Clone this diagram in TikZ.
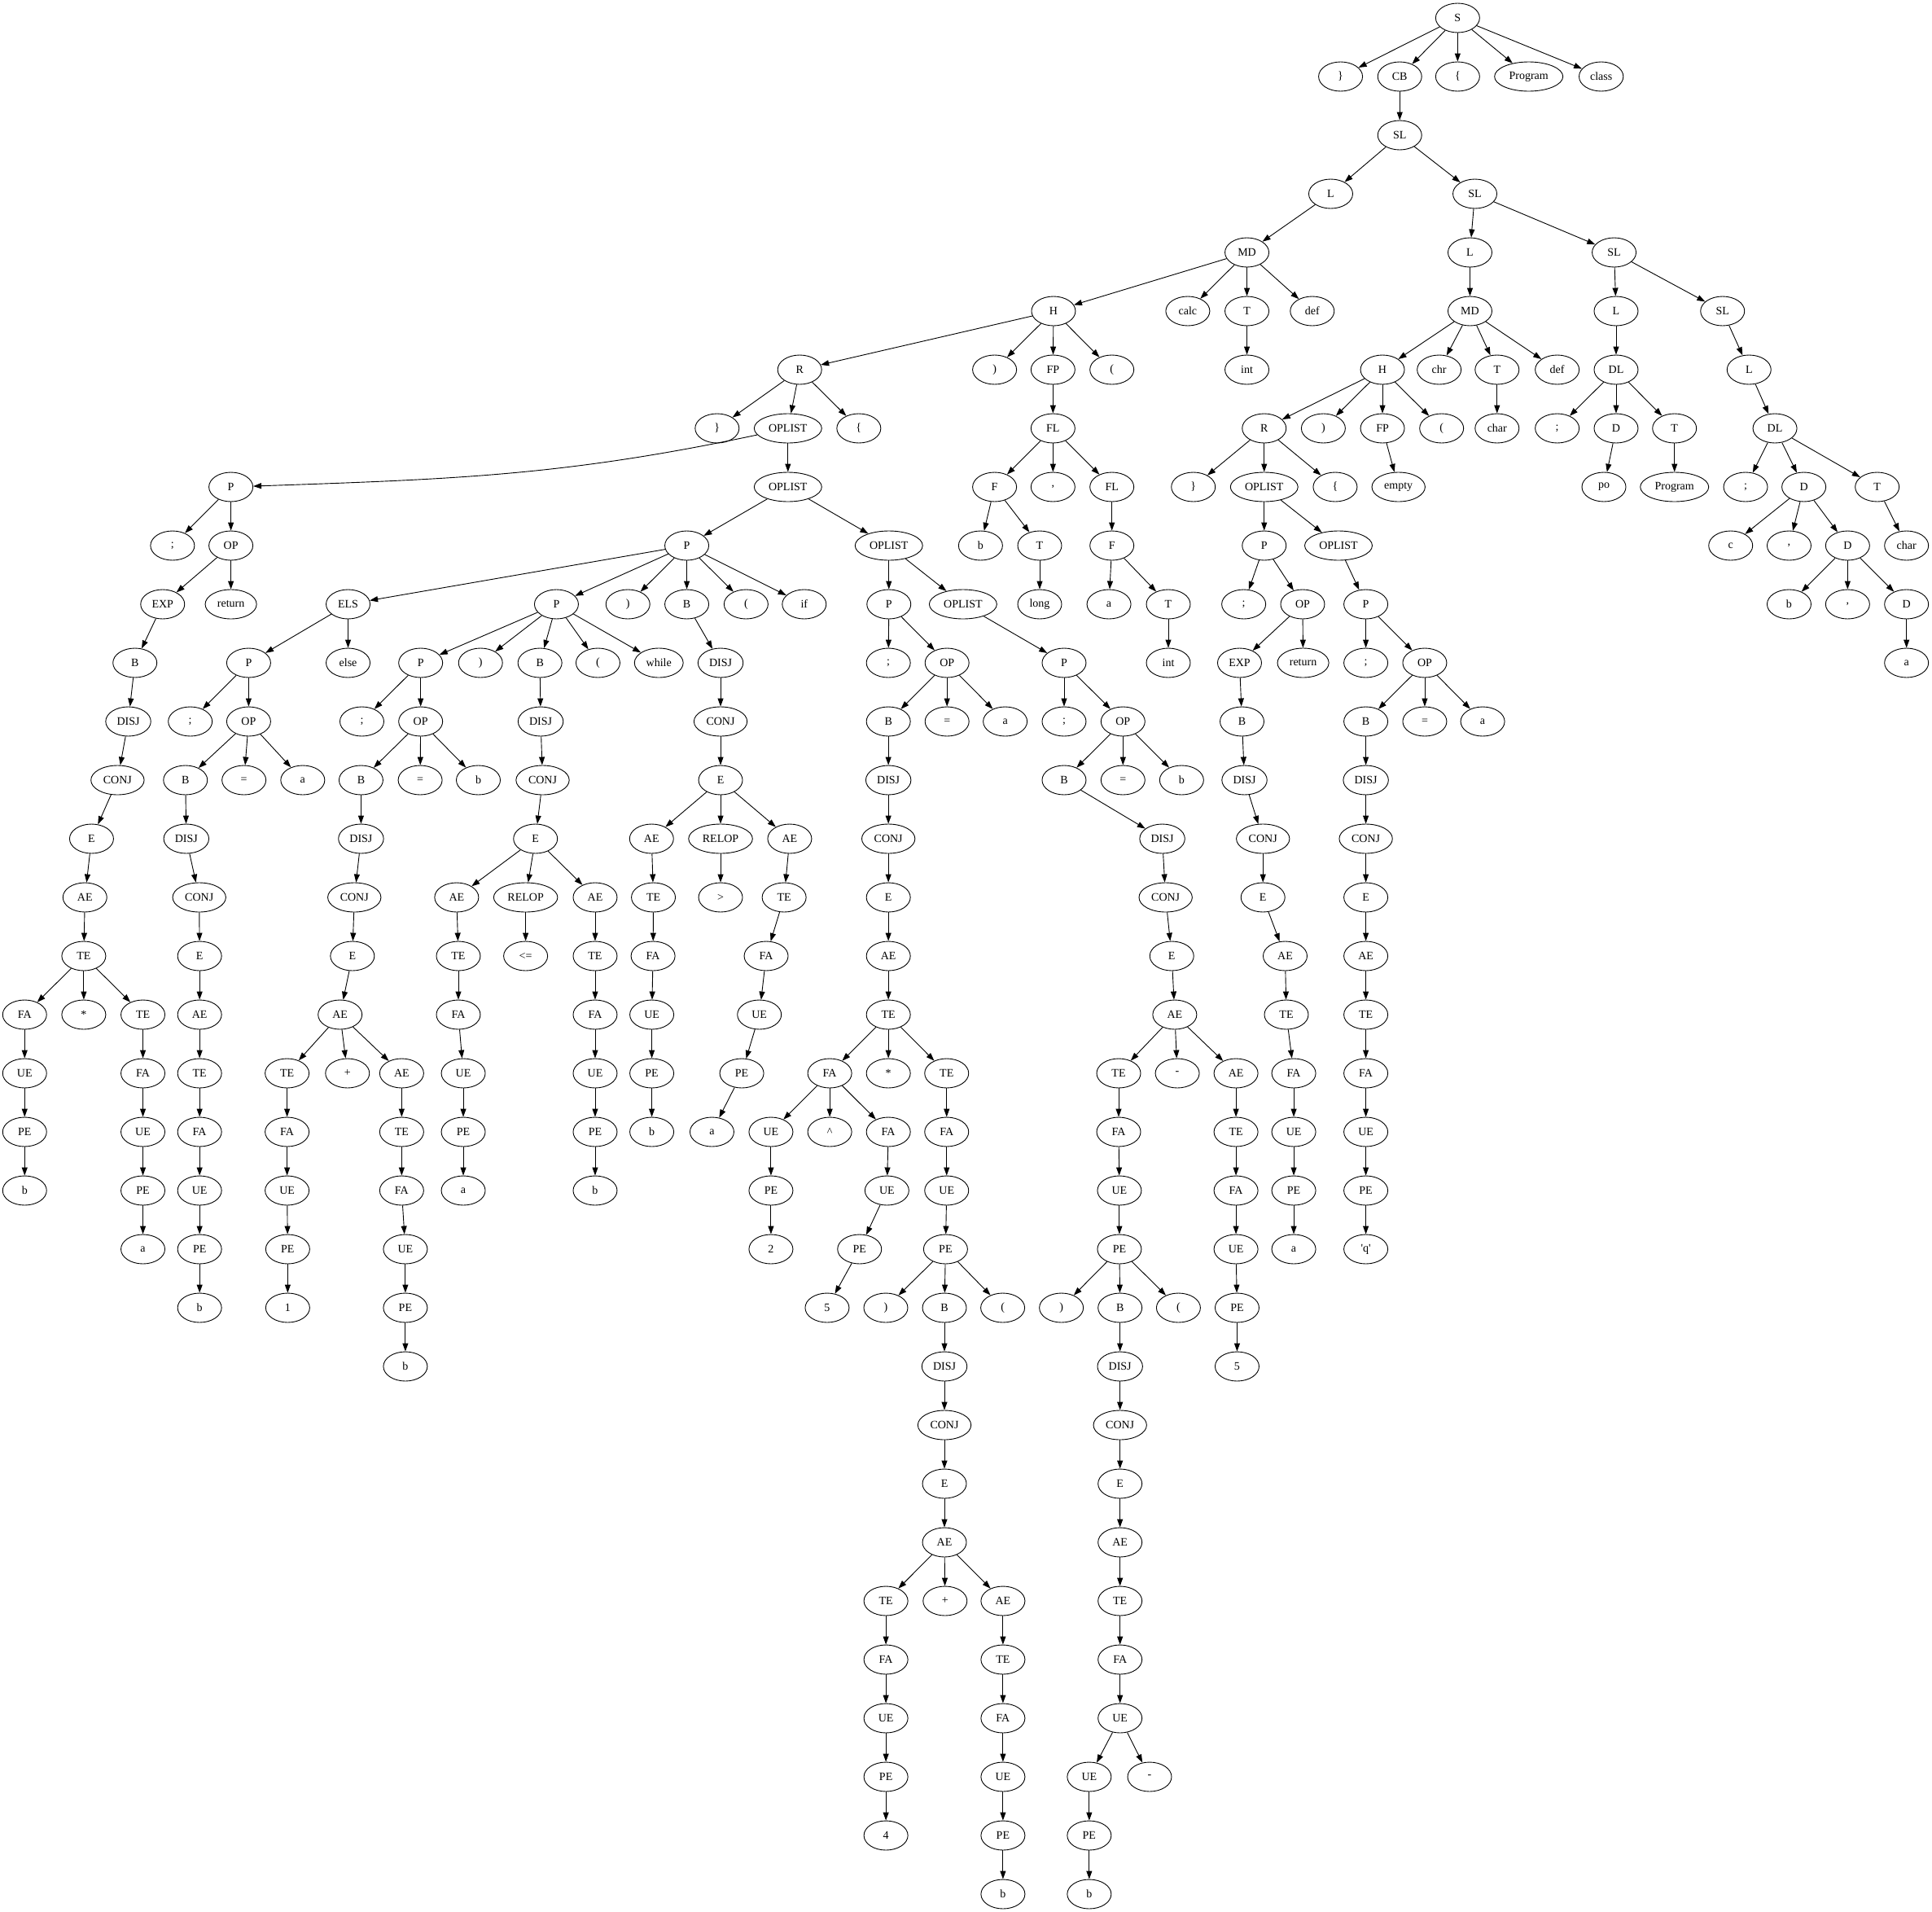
\documentclass[tikz,border=0pt]{standalone}
\usepackage{fontspec}
\setmainfont{Liberation Serif}
\usetikzlibrary{shapes.geometric,arrows.meta}
\begin{document}
\begin{tikzpicture}[x=1.5134pt,y=-72pt,
  nd/.style={draw, ellipse, line width=0.9pt, minimum width=54pt, minimum height=36pt, inner xsep=5.6pt, inner ysep=2pt, font=\fontsize{14pt}{16pt}\selectfont},
  arr/.style={line width=0.9pt, -{Triangle[length=10pt,width=7pt]}}]
\useasboundingbox (0,-0.30556) rectangle (1568,32.30556);
% level 0
\node[nd] (n0a) at (1183,0) {S};
% level 1
\node[nd] (n1a) at (1088,1) {\}};
\node[nd] (n1b) at (1136,1) {CB};
\node[nd] (n1c) at (1183,1) {\{};
\node[nd] (n1d) at (1240.7,1) {Program};
\node[nd] (n1e) at (1299.5,1) {class};
% level 2
\node[nd] (n2a) at (1136,2) {SL};
% level 3
\node[nd] (n3a) at (1080,3) {L};
\node[nd] (n3b) at (1197,3) {SL};
% level 4
\node[nd] (n4a) at (1012,4) {MD};
\node[nd] (n4b) at (1193,4) {L};
\node[nd] (n4c) at (1310,4) {SL};
% level 5
\node[nd] (n5a) at (855,5) {H};
\node[nd] (n5b) at (964,5) {calc};
\node[nd] (n5c) at (1012,5) {T};
\node[nd] (n5d) at (1065,5) {def};
\node[nd] (n5e) at (1193,5) {MD};
\node[nd] (n5f) at (1311.6,5) {L};
\node[nd] (n5g) at (1398,5) {SL};
% level 6
\node[nd] (n6a) at (649,6) {R};
\node[nd] (n6b) at (807.2,6) {)};
\node[nd] (n6c) at (854.6,6) {FP};
\node[nd] (n6d) at (902.4,6) {(};
\node[nd] (n6e) at (1012,6) {int};
\node[nd] (n6f) at (1122,6) {H};
\node[nd] (n6g) at (1168,6) {chr};
\node[nd] (n6h) at (1215,6) {T};
\node[nd] (n6i) at (1263.8,6) {def};
\node[nd] (n6j) at (1311.6,6) {DL};
\node[nd] (n6k) at (1419.5,6) {L};
% level 7
\node[nd] (n7a) at (582,7) {\}};
\node[nd] (n7b) at (639.5,7) {OPLIST};
\node[nd] (n7c) at (697,7) {\{};
\node[nd] (n7d) at (854.6,7) {FL};
\node[nd] (n7e) at (1026,7) {R};
\node[nd] (n7f) at (1074,7) {)};
\node[nd] (n7g) at (1122,7) {FP};
\node[nd] (n7h) at (1170,7) {(};
\node[nd] (n7i) at (1215,7) {char};
\node[nd] (n7j) at (1263.8,7) {;};
\node[nd] (n7k) at (1311.6,7) {D};
\node[nd] (n7l) at (1359,7) {T};
\node[nd] (n7m) at (1440.5,7) {DL};
% level 8
\node[nd] (n8a) at (187.4,8) {P};
\node[nd] (n8b) at (639.5,8) {OPLIST};
\node[nd] (n8c) at (807.2,8) {F};
\node[nd] (n8d) at (854.6,8) {,};
\node[nd] (n8e) at (902.4,8) {FL};
\node[nd] (n8f) at (968.5,8) {\}};
\node[nd] (n8g) at (1026,8) {OPLIST};
\node[nd] (n8h) at (1083.6,8) {\{};
\node[nd] (n8i) at (1135,8) {empty};
\node[nd] (n8j) at (1301.7,8) {po};
\node[nd] (n8k) at (1359,8) {Program};
\node[nd] (n8l) at (1416.7,8) {;};
\node[nd] (n8m) at (1464,8) {D};
\node[nd] (n8n) at (1523.5,8) {T};
% level 9
\node[nd] (n9a) at (140,9) {;};
\node[nd] (n9b) at (187.4,9) {OP};
\node[nd] (n9c) at (557.4,9) {P};
\node[nd] (n9d) at (721.4,9) {OPLIST};
\node[nd] (n9e) at (795.8,9) {b};
\node[nd] (n9f) at (843.8,9) {T};
\node[nd] (n9g) at (902.4,9) {F};
\node[nd] (n9h) at (1026,9) {P};
\node[nd] (n9i) at (1086.3,9) {OPLIST};
\node[nd] (n9j) at (1404.6,9) {c};
\node[nd] (n9k) at (1452,9) {,};
\node[nd] (n9l) at (1499.5,9) {D};
\node[nd] (n9m) at (1547.3,9) {char};
% level 10
\node[nd] (n10a) at (132,10) {EXP};
\node[nd] (n10b) at (187.4,10) {return};
\node[nd] (n10c) at (282.5,10) {ELS};
\node[nd] (n10d) at (451.6,10) {P};
\node[nd] (n10e) at (509.6,10) {)};
\node[nd] (n10f) at (557.4,10) {B};
\node[nd] (n10g) at (605.5,10) {(};
\node[nd] (n10h) at (652.7,10) {if};
\node[nd] (n10i) at (721.4,10) {P};
\node[nd] (n10j) at (781.6,10) {OPLIST};
\node[nd] (n10k) at (843.8,10) {long};
\node[nd] (n10l) at (900,10) {a};
\node[nd] (n10m) at (948.2,10) {T};
\node[nd] (n10n) at (1009.4,10) {;};
\node[nd] (n10o) at (1057.2,10) {OP};
\node[nd] (n10p) at (1108.5,10) {P};
\node[nd] (n10q) at (1452,10) {b};
\node[nd] (n10r) at (1499.5,10) {,};
\node[nd] (n10s) at (1547.3,10) {D};
% level 11
\node[nd] (n11a) at (109.5,11) {B};
\node[nd] (n11b) at (201.8,11) {P};
\node[nd] (n11c) at (282.5,11) {else};
\node[nd] (n11d) at (341.4,11) {P};
\node[nd] (n11e) at (390,11) {)};
\node[nd] (n11f) at (438.2,11) {B};
\node[nd] (n11g) at (485.3,11) {(};
\node[nd] (n11h) at (534.7,11) {while};
\node[nd] (n11i) at (584.8,11) {DISJ};
\node[nd] (n11j) at (721,11) {;};
\node[nd] (n11k) at (768.6,11) {OP};
\node[nd] (n11l) at (863.6,11) {P};
\node[nd] (n11m) at (948.2,11) {int};
\node[nd] (n11n) at (1006,11) {EXP};
\node[nd] (n11o) at (1057.6,11) {return};
\node[nd] (n11p) at (1108.5,11) {;};
\node[nd] (n11q) at (1156.3,11) {OP};
\node[nd] (n11r) at (1547.3,11) {a};
% level 12
\node[nd] (n12a) at (104.1,12) {DISJ};
\node[nd] (n12b) at (154.4,12) {;};
\node[nd] (n12c) at (201.8,12) {OP};
\node[nd] (n12d) at (293.7,12) {;};
\node[nd] (n12e) at (341.4,12) {OP};
\node[nd] (n12f) at (438.8,12) {DISJ};
\node[nd] (n12g) at (584.8,12) {CONJ};
\node[nd] (n12h) at (721,12) {B};
\node[nd] (n12i) at (768.6,12) {=};
\node[nd] (n12j) at (815.8,12) {a};
\node[nd] (n12k) at (863.6,12) {;};
\node[nd] (n12l) at (911.4,12) {OP};
\node[nd] (n12m) at (1008,12) {B};
\node[nd] (n12n) at (1108.5,12) {B};
\node[nd] (n12o) at (1156.3,12) {=};
\node[nd] (n12p) at (1203.3,12) {a};
% level 13
\node[nd] (n13a) at (95.4,13) {CONJ};
\node[nd] (n13b) at (150.5,13) {B};
\node[nd] (n13c) at (198,13) {=};
\node[nd] (n13d) at (245.7,13) {a};
\node[nd] (n13e) at (293,13) {B};
\node[nd] (n13f) at (341,13) {=};
\node[nd] (n13g) at (388.2,13) {b};
\node[nd] (n13h) at (440.4,13) {CONJ};
\node[nd] (n13i) at (584.8,13) {E};
\node[nd] (n13j) at (721,13) {DISJ};
\node[nd] (n13k) at (863.6,13) {B};
\node[nd] (n13l) at (911.4,13) {=};
\node[nd] (n13m) at (959,13) {b};
\node[nd] (n13n) at (1010,13) {DISJ};
\node[nd] (n13o) at (1108.5,13) {DISJ};
% level 14
\node[nd] (n14a) at (74.3,14) {E};
\node[nd] (n14b) at (151.2,14) {DISJ};
\node[nd] (n14c) at (293,14) {DISJ};
\node[nd] (n14d) at (434.6,14) {E};
\node[nd] (n14e) at (528.8,14) {AE};
\node[nd] (n14f) at (584.8,14) {RELOP};
\node[nd] (n14g) at (640.9,14) {AE};
\node[nd] (n14h) at (721,14) {CONJ};
\node[nd] (n14i) at (943.3,14) {DISJ};
\node[nd] (n14j) at (1025,14) {CONJ};
\node[nd] (n14k) at (1108.5,14) {CONJ};
% level 15
\node[nd] (n15a) at (68.9,15) {AE};
\node[nd] (n15b) at (161.7,15) {CONJ};
\node[nd] (n15c) at (287.6,15) {CONJ};
\node[nd] (n15d) at (370.6,15) {AE};
\node[nd] (n15e) at (426.6,15) {RELOP};
\node[nd] (n15f) at (483,15) {AE};
\node[nd] (n15g) at (530.3,15) {TE};
\node[nd] (n15h) at (584.8,15) {>};
\node[nd] (n15i) at (636.4,15) {TE};
\node[nd] (n15j) at (721,15) {E};
\node[nd] (n15k) at (946,15) {CONJ};
\node[nd] (n15l) at (1025,15) {E};
\node[nd] (n15m) at (1108.5,15) {E};
% level 16
\node[nd] (n16a) at (68,16) {TE};
\node[nd] (n16b) at (162,16) {E};
\node[nd] (n16c) at (286,16) {E};
\node[nd] (n16d) at (372,16) {TE};
\node[nd] (n16e) at (426.6,16) {<=};
\node[nd] (n16f) at (483,16) {TE};
\node[nd] (n16g) at (530,16) {FA};
\node[nd] (n16h) at (621.8,16) {FA};
\node[nd] (n16i) at (721,16) {AE};
\node[nd] (n16j) at (951,16) {E};
\node[nd] (n16k) at (1043,16) {AE};
\node[nd] (n16l) at (1108.5,16) {AE};
% level 17
\node[nd] (n17a) at (20,17) {FA};
\node[nd] (n17b) at (68,17) {*};
\node[nd] (n17c) at (116,17) {TE};
\node[nd] (n17d) at (162,17) {AE};
\node[nd] (n17e) at (276,17) {AE};
\node[nd] (n17f) at (372,17) {FA};
\node[nd] (n17g) at (483,17) {FA};
\node[nd] (n17h) at (529,17) {UE};
\node[nd] (n17i) at (616.3,17) {UE};
\node[nd] (n17j) at (721,17) {TE};
\node[nd] (n17k) at (953.4,17) {AE};
\node[nd] (n17l) at (1044,17) {TE};
\node[nd] (n17m) at (1108.5,17) {TE};
% level 18
\node[nd] (n18a) at (20,18) {UE};
\node[nd] (n18b) at (116,18) {FA};
\node[nd] (n18c) at (162,18) {TE};
\node[nd] (n18d) at (233,18) {TE};
\node[nd] (n18e) at (282,18) {+};
\node[nd] (n18f) at (326,18) {AE};
\node[nd] (n18g) at (376,18) {UE};
\node[nd] (n18h) at (483,18) {UE};
\node[nd] (n18i) at (529,18) {PE};
\node[nd] (n18j) at (602,18) {PE};
\node[nd] (n18k) at (673.4,18) {FA};
\node[nd] (n18l) at (721,18) {*};
\node[nd] (n18m) at (768.3,18) {TE};
\node[nd] (n18n) at (907.9,18) {TE};
\node[nd] (n18o) at (955.5,18) {-};
\node[nd] (n18p) at (1003.1,18) {AE};
\node[nd] (n18q) at (1050,18) {FA};
\node[nd] (n18r) at (1108.5,18) {FA};
% level 19
\node[nd] (n19a) at (20,19) {PE};
\node[nd] (n19b) at (116,19) {UE};
\node[nd] (n19c) at (162,19) {FA};
\node[nd] (n19d) at (233,19) {FA};
\node[nd] (n19e) at (326,19) {TE};
\node[nd] (n19f) at (376,19) {PE};
\node[nd] (n19g) at (483,19) {PE};
\node[nd] (n19h) at (529,19) {b};
\node[nd] (n19i) at (577.8,19) {a};
\node[nd] (n19j) at (625.7,19) {UE};
\node[nd] (n19k) at (673.4,19) {\textasciicircum};
\node[nd] (n19l) at (721,19) {FA};
\node[nd] (n19m) at (768.3,19) {FA};
\node[nd] (n19n) at (907.9,19) {FA};
\node[nd] (n19o) at (1003.1,19) {TE};
\node[nd] (n19p) at (1050,19) {UE};
\node[nd] (n19q) at (1108.5,19) {UE};
% level 20
\node[nd] (n20a) at (20,20) {b};
\node[nd] (n20b) at (116,20) {PE};
\node[nd] (n20c) at (162,20) {UE};
\node[nd] (n20d) at (233,20) {UE};
\node[nd] (n20e) at (326,20) {FA};
\node[nd] (n20f) at (376,20) {a};
\node[nd] (n20g) at (483,20) {b};
\node[nd] (n20h) at (625.7,20) {PE};
\node[nd] (n20i) at (719.8,20) {UE};
\node[nd] (n20j) at (768.3,20) {UE};
\node[nd] (n20k) at (908.5,20) {UE};
\node[nd] (n20l) at (1003.1,20) {FA};
\node[nd] (n20m) at (1050,20) {PE};
\node[nd] (n20n) at (1108.5,20) {PE};
% level 21
\node[nd] (n21a) at (116,21) {a};
\node[nd] (n21b) at (162,21) {PE};
\node[nd] (n21c) at (233.5,21) {PE};
\node[nd] (n21d) at (329,21) {UE};
\node[nd] (n21e) at (625.7,21) {2};
\node[nd] (n21f) at (697.6,21) {PE};
\node[nd] (n21g) at (767.4,21) {PE};
\node[nd] (n21h) at (908.5,21) {PE};
\node[nd] (n21i) at (1003.1,21) {UE};
\node[nd] (n21j) at (1050,21) {a};
\node[nd] (n21k) at (1108.5,21) {\textquotesingle q\textquotesingle};
% level 22
\node[nd] (n22a) at (162,22) {b};
\node[nd] (n22b) at (233.5,22) {1};
\node[nd] (n22c) at (329,22) {PE};
\node[nd] (n22d) at (671.3,22) {5};
\node[nd] (n22e) at (718.9,22) {)};
\node[nd] (n22f) at (766.5,22) {B};
\node[nd] (n22g) at (813.8,22) {(};
\node[nd] (n22h) at (861.4,22) {)};
\node[nd] (n22i) at (909,22) {B};
\node[nd] (n22j) at (956.4,22) {(};
\node[nd] (n22k) at (1004,22) {PE};
% level 23
\node[nd] (n23a) at (329,23) {b};
\node[nd] (n23b) at (766.5,23) {DISJ};
\node[nd] (n23c) at (909,23) {DISJ};
\node[nd] (n23d) at (1004,23) {5};
% level 24
\node[nd] (n24a) at (766.5,24) {CONJ};
\node[nd] (n24b) at (909,24) {CONJ};
% level 25
\node[nd] (n25a) at (766.5,25) {E};
\node[nd] (n25b) at (909,25) {E};
% level 26
\node[nd] (n26a) at (766.5,26) {AE};
\node[nd] (n26b) at (909,26) {AE};
% level 27
\node[nd] (n27a) at (719,27) {TE};
\node[nd] (n27b) at (767,27) {+};
\node[nd] (n27c) at (814,27) {AE};
\node[nd] (n27d) at (909,27) {TE};
% level 28
\node[nd] (n28a) at (719,28) {FA};
\node[nd] (n28b) at (814,28) {TE};
\node[nd] (n28c) at (909,28) {FA};
% level 29
\node[nd] (n29a) at (719,29) {UE};
\node[nd] (n29b) at (814,29) {FA};
\node[nd] (n29c) at (909,29) {UE};
% level 30
\node[nd] (n30a) at (719,30) {PE};
\node[nd] (n30b) at (814,30) {UE};
\node[nd] (n30c) at (884,30) {UE};
\node[nd] (n30d) at (933,30) {-};
% level 31
\node[nd] (n31a) at (719,31) {4};
\node[nd] (n31b) at (814,31) {PE};
\node[nd] (n31c) at (884,31) {PE};
% level 32
\node[nd] (n32a) at (814,32) {b};
\node[nd] (n32b) at (884,32) {b};
% edges
\draw[arr] (n7b) to[out=192,in=2] (n8a);
\foreach \p/\c in {n0a/n1a, n0a/n1b, n0a/n1c, n0a/n1d, n0a/n1e,
n1b/n2a, n2a/n3a, n2a/n3b, n3a/n4a, n3b/n4b, n3b/n4c,
n4a/n5a, n4a/n5b, n4a/n5c, n4a/n5d, n4b/n5e, n4c/n5f, n4c/n5g,
n5a/n6a, n5a/n6b, n5a/n6c, n5a/n6d, n5c/n6e, n5e/n6f, n5e/n6g, n5e/n6h, n5e/n6i, n5f/n6j, n5g/n6k,
n6a/n7a, n6a/n7b, n6a/n7c, n6c/n7d, n6f/n7e, n6f/n7f, n6f/n7g, n6f/n7h, n6h/n7i, n6j/n7j, n6j/n7k, n6j/n7l, n6k/n7m,
n7b/n8b, n7d/n8c, n7d/n8d, n7d/n8e, n7e/n8f, n7e/n8g, n7e/n8h, n7g/n8i, n7k/n8j, n7l/n8k, n7m/n8l, n7m/n8m, n7m/n8n,
n8a/n9a, n8a/n9b, n8b/n9c, n8b/n9d, n8c/n9e, n8c/n9f, n8e/n9g, n8g/n9h, n8g/n9i, n8m/n9j, n8m/n9k, n8m/n9l, n8n/n9m,
n9b/n10a, n9b/n10b, n9c/n10c, n9c/n10d, n9c/n10e, n9c/n10f, n9c/n10g, n9c/n10h, n9d/n10i, n9d/n10j, n9f/n10k, n9g/n10l, n9g/n10m, n9h/n10n, n9h/n10o, n9i/n10p, n9l/n10q, n9l/n10r, n9l/n10s,
n10a/n11a, n10c/n11b, n10c/n11c, n10d/n11d, n10d/n11e, n10d/n11f, n10d/n11g, n10d/n11h, n10f/n11i, n10i/n11j, n10i/n11k, n10j/n11l, n10m/n11m, n10o/n11n, n10o/n11o, n10p/n11p, n10p/n11q, n10s/n11r,
n11a/n12a, n11b/n12b, n11b/n12c, n11d/n12d, n11d/n12e, n11f/n12f, n11i/n12g, n11k/n12h, n11k/n12i, n11k/n12j, n11l/n12k, n11l/n12l, n11n/n12m, n11q/n12n, n11q/n12o, n11q/n12p,
n12a/n13a, n12c/n13b, n12c/n13c, n12c/n13d, n12e/n13e, n12e/n13f, n12e/n13g, n12f/n13h, n12g/n13i, n12h/n13j, n12l/n13k, n12l/n13l, n12l/n13m, n12m/n13n, n12n/n13o,
n13a/n14a, n13b/n14b, n13e/n14c, n13h/n14d, n13i/n14e, n13i/n14f, n13i/n14g, n13j/n14h, n13k/n14i, n13n/n14j, n13o/n14k,
n14a/n15a, n14b/n15b, n14c/n15c, n14d/n15d, n14d/n15e, n14d/n15f, n14e/n15g, n14f/n15h, n14g/n15i, n14h/n15j, n14i/n15k, n14j/n15l, n14k/n15m,
n15a/n16a, n15b/n16b, n15c/n16c, n15d/n16d, n15e/n16e, n15f/n16f, n15g/n16g, n15i/n16h, n15j/n16i, n15k/n16j, n15l/n16k, n15m/n16l,
n16a/n17a, n16a/n17b, n16a/n17c, n16b/n17d, n16c/n17e, n16d/n17f, n16f/n17g, n16g/n17h, n16h/n17i, n16i/n17j, n16j/n17k, n16k/n17l, n16l/n17m,
n17a/n18a, n17c/n18b, n17d/n18c, n17e/n18d, n17e/n18e, n17e/n18f, n17f/n18g, n17g/n18h, n17h/n18i, n17i/n18j, n17j/n18k, n17j/n18l, n17j/n18m, n17k/n18n, n17k/n18o, n17k/n18p, n17l/n18q, n17m/n18r,
n18a/n19a, n18b/n19b, n18c/n19c, n18d/n19d, n18f/n19e, n18g/n19f, n18h/n19g, n18i/n19h, n18j/n19i, n18k/n19j, n18k/n19k, n18k/n19l, n18m/n19m, n18n/n19n, n18p/n19o, n18q/n19p, n18r/n19q,
n19a/n20a, n19b/n20b, n19c/n20c, n19d/n20d, n19e/n20e, n19f/n20f, n19g/n20g, n19j/n20h, n19l/n20i, n19m/n20j, n19n/n20k, n19o/n20l, n19p/n20m, n19q/n20n,
n20b/n21a, n20c/n21b, n20d/n21c, n20e/n21d, n20h/n21e, n20i/n21f, n20j/n21g, n20k/n21h, n20l/n21i, n20m/n21j, n20n/n21k,
n21b/n22a, n21c/n22b, n21d/n22c, n21f/n22d, n21g/n22e, n21g/n22f, n21g/n22g, n21h/n22h, n21h/n22i, n21h/n22j, n21i/n22k,
n22c/n23a, n22f/n23b, n22i/n23c, n22k/n23d,
n23b/n24a, n23c/n24b, n24a/n25a, n24b/n25b, n25a/n26a, n25b/n26b,
n26a/n27a, n26a/n27b, n26a/n27c, n26b/n27d,
n27a/n28a, n27c/n28b, n27d/n28c,
n28a/n29a, n28b/n29b, n28c/n29c,
n29a/n30a, n29b/n30b, n29c/n30c, n29c/n30d,
n30a/n31a, n30b/n31b, n30c/n31c,
n31b/n32a, n31c/n32b}
  \draw[arr] (\p) -- (\c);
\end{tikzpicture}
\end{document}
